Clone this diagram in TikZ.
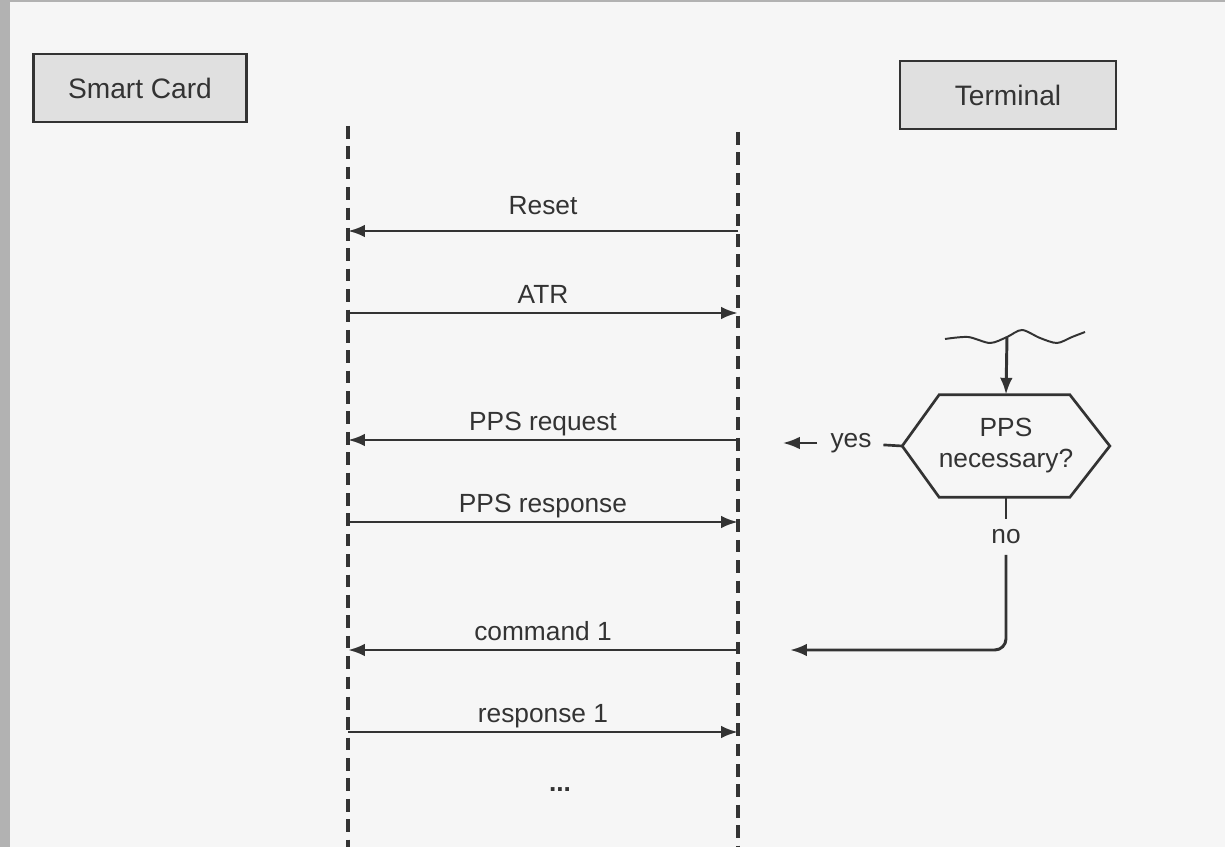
\documentclass[tikz,border=0pt]{standalone}
\usepackage{fontspec}
\setmainfont{Liberation Sans}
\usepackage{xcolor}
\usetikzlibrary{arrows.meta, positioning, calc}

\definecolor{inkc}{HTML}{333333}
\definecolor{boxc}{HTML}{E0E0E0}
\definecolor{bgc}{HTML}{F6F6F6}
\definecolor{edgec}{HTML}{B2B2B2}

\begin{document}
\begin{tikzpicture}[
  x=0.025cm, y=-0.025cm,
  font=\fontsize{18.7}{22}\selectfont,
  actor/.style={draw=inkc, line width=2pt, fill=boxc, text=inkc, minimum height=1.7cm, font=\fontsize{20}{24}\selectfont},
  lifeline/.style={draw=inkc, line width=2.4pt, dash pattern=on 9pt off 5.5pt},
  msg/.style={draw=inkc, line width=2.1pt, -{Latex[length=12pt, width=9pt]}},
  flow/.style={draw=inkc, line width=1.9pt},
  lbl/.style={above=6pt, inner sep=0pt, text depth=0pt, text=inkc}
]

% Page
\fill[bgc] (0,0) rectangle (1225,847);
\fill[edgec] (0,0) rectangle (10,847);
\fill[edgec] (0,0) rectangle (1225,2);
\useasboundingbox (0,0) rectangle (1225,847);

% Nodes
\node[actor, minimum width=5.33cm] (card) at (140,88) {Smart Card};
\node[actor, minimum width=5.4cm] (term) at (1008,95) {Terminal};

% Lifelines
\coordinate (cardtop) at (348,126);
\coordinate (cardbot) at (348,847);
\coordinate (termtop) at (738,132);
\coordinate (termbot) at (738,847);
\draw[lifeline] (cardtop) -- (cardbot);
\draw[lifeline] (termtop) -- (termbot);

% Message ends
\coordinate (c1) at (348,231); \coordinate (t1) at (738,231);
\coordinate (c2) at (348,313); \coordinate (t2) at (738,313);
\coordinate (c3) at (348,440); \coordinate (t3) at (738,440);
\coordinate (c4) at (348,522); \coordinate (t4) at (738,522);
\coordinate (c5) at (348,650); \coordinate (t5) at (738,650);
\coordinate (c6) at (348,732); \coordinate (t6) at (738,732);

% Pointers
\draw[msg] (t1) -- node[lbl, above=11pt] {Reset} (c1);
\draw[msg] (c2) -- node[lbl] {ATR} (t2);
\draw[msg] (t3) -- node[lbl] {PPS request} (c3);
\draw[msg] (c4) -- node[lbl] {PPS response} (t4);
\draw[msg] (t5) -- node[lbl] {command 1} (c5);
\draw[msg] (c6) -- node[lbl] {response 1} (t6);
\node[text=inkc] (dots) at (560,790) {\textbf{...}};

% Decision
\node[align=center, inner sep=0pt, text=inkc, minimum width=5.175cm, minimum height=2.55cm] (hex) at (1006,446) {PPS\\necessary?};
\draw[flow] (hex.west) -- ($(hex.north west)+(37,0)$) -- ($(hex.north east)+(-40,0)$)
  -- (hex.east) -- ($(hex.south east)+(-40,0)$) -- ($(hex.south west)+(37,0)$) -- cycle;

\draw[flow, line width=1.4pt] plot[smooth] coordinates {(945,339) (968,337) (990,343) (1007,337) (1022,330) (1040,338) (1057,343) (1072,337) (1085,332)};
\coordinate (wave) at (1007,337);
\draw[msg] (wave) -- (hex.north);

\node[text=inkc] (yes) at (851,443) {yes};
\coordinate (yestip) at (783,443);
\draw[flow, shorten >=5pt] (hex.west) -- (yes);
\draw[msg, line width=1.6pt, shorten <=6pt] (yes) -- (yestip);

\node[text=inkc] (no) at (1006,537) {no};
\coordinate (notip) at (790,650);
\draw[flow, shorten >=4pt] (hex.south) -- (no);
\draw[msg, rounded corners=8pt, shorten <=4pt] (no) |- (notip);

\end{tikzpicture}
\end{document}
